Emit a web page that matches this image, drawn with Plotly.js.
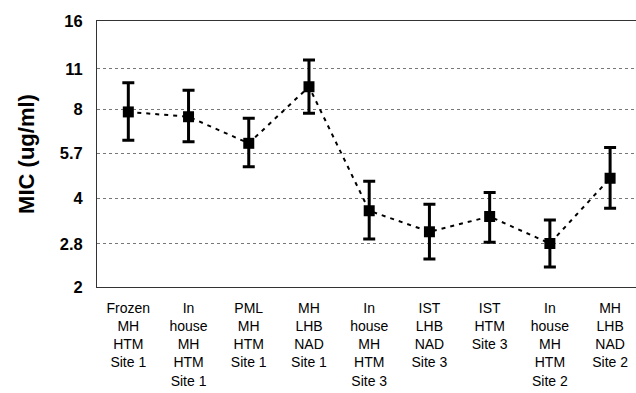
<!DOCTYPE html>
<html>
<head>
<meta charset="utf-8">
<script src="https://cdn.plot.ly/plotly-3.0.1.min.js"></script>
<style>html,body{margin:0;padding:0;background:#fff;}#chart{width:636px;height:393px;}</style>
</head>
<body>
<div id="chart"></div>
<script>
var categories = [
  "Frozen<br>MH<br>HTM<br>Site 1",
  "In<br>house<br>MH<br>HTM<br>Site 1",
  "PML<br>MH<br>HTM<br>Site 1",
  "MH<br>LHB<br>NAD<br>Site 1",
  "In<br>house<br>MH<br>HTM<br>Site 3",
  "IST<br>LHB<br>NAD<br>Site 3",
  "IST<br>HTM<br>Site 3",
  "In<br>house<br>MH<br>HTM<br>Site 2",
  "MH<br>LHB<br>NAD<br>Site 2"
];
var micValues = [7.86, 7.57, 6.15, 9.57, 3.63, 3.08, 3.47, 2.81, 4.68];
var micUpper  = [9.88, 9.31, 7.48, 11.8, 4.57, 3.82, 4.19, 3.38, 5.95];
var micLower  = [6.30, 6.22, 5.12, 7.78, 2.91, 2.49, 2.84, 2.34, 3.70];
var yTickVals = [2, 2.8, 4, 5.7, 8, 11, 16];
var yTickText = ["2", "2.8", "4", "5.7", "8", "11", "16"];

var xIdx = categories.map(function(c, i){ return i; });
var errPlus = micValues.map(function(v, i){ return micUpper[i] - v; });
var errMinus = micValues.map(function(v, i){ return v - micLower[i]; });

var trace = {
  x: xIdx,
  y: micValues,
  type: 'scatter',
  mode: 'lines+markers',
  line: {color: '#000', width: 2, dash: '4px,5px'},
  marker: {symbol: 'square', size: 11, color: '#000'},
  error_y: {
    type: 'data', symmetric: false,
    array: errPlus, arrayminus: errMinus,
    color: '#000', thickness: 3, width: 6
  },
  hoverinfo: 'none'
};

var layout = {
  width: 636, height: 393,
  margin: {l: 97, r: 0, t: 21, b: 106},
  paper_bgcolor: '#fff', plot_bgcolor: '#fff',
  showlegend: false,
  font: {family: 'Liberation Sans, Arial, sans-serif', color: '#000'},
  xaxis: {
    range: [-0.52, 8.43],
    tickvals: xIdx,
    ticktext: categories,
    tickfont: {size: 14, color: '#000'},
    ticks: '',
    showgrid: false,
    showline: true, linecolor: '#333', linewidth: 1, mirror: true,
    zeroline: false,
    ticklabelstandoff: 8
  },
  yaxis: {
    type: 'log',
    range: [Math.log10(2), Math.log10(16)],
    tickvals: yTickVals,
    ticktext: yTickText,
    tickfont: {size: 16.5, color: '#000', weight: 'bold'},
    ticks: '',
    ticklabelstandoff: 10,
    showgrid: true, gridcolor: '#777', griddash: 'dot', gridwidth: 1,
    showline: true, linecolor: '#333', linewidth: 1,
    zeroline: false,
    title: {text: 'MIC (ug/ml)', font: {size: 22, weight: 'bold', color: '#000'}, standoff: 19}
  }
};

Plotly.newPlot('chart', [trace], layout, {displayModeBar: false, staticPlot: true});
</script>
</body>
</html>
